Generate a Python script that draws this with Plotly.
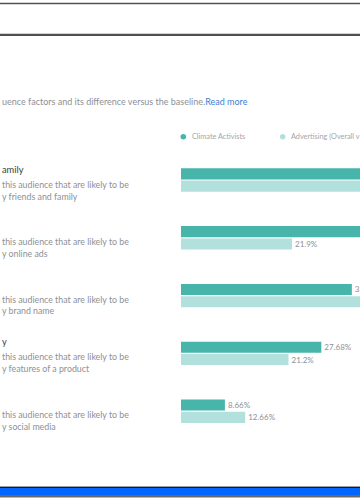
import plotly.graph_objects as go

# ---------------- data ----------------
categories = ["Friends and family", "Online ads", "Brand name", "Product quality", "Social media"]
climate_activists = [42.5, 38.4, 33.7, 27.68, 8.66]
advertising_overall = [40.1, 21.9, 36.5, 21.2, 12.66]
series_names = ["Climate Activists", "Advertising (Overall v"]
# visible parts of the page texts (the page is cropped at the left edge)
title_texts = ["amily", "", "", "y", ""]
line1_texts = ["this audience that are likely to be"] * 5
line2_texts = ["y friends and family", "y online ads", "y brand name",
               "y features of a product", "y social media"]
subtitle = "uence factors and its difference versus the baseline."
read_more = "Read more"

# ---------------- styling ----------------
W, H = 360, 500
FONT = "Lato"
C_DARK = "#48b5aa"
C_LIGHT = "#b2e0dc"
GRAY = "#8d9096"

x0_px = 181
scale = 5.07  # px per percent
xmax = (W - x0_px) / scale


def px(x):
    return x / W


def py(y):
    return 1 - y / H


def labels(vals):
    return [f"{v}%" if v < xmax else "" for v in vals]


fig = go.Figure()
fig.add_trace(go.Bar(
    y=categories, x=climate_activists, orientation="h", name=series_names[0],
    marker=dict(color=C_DARK, line=dict(width=0)),
    text=labels(climate_activists), textposition="outside",
    textfont=dict(family=FONT, size=8, color=GRAY), cliponaxis=True,
))
fig.add_trace(go.Bar(
    y=categories, x=advertising_overall, orientation="h", name=series_names[1],
    marker=dict(color=C_LIGHT, line=dict(width=0)),
    text=labels(advertising_overall), textposition="outside",
    textfont=dict(family=FONT, size=8, color=GRAY), cliponaxis=True,
))

fig.update_xaxes(domain=[px(x0_px), 1], range=[0, xmax],
                 visible=False, showgrid=False, zeroline=False)
fig.update_yaxes(domain=[py(440.1), py(151.1)], range=[4.5, -0.5],
                 visible=False, showgrid=False, zeroline=False)

ann = []
ann.append(dict(xref="paper", yref="paper", x=px(0.2), y=py(101.5), xanchor="left", yanchor="middle",
                text=subtitle + f"<span style='color:#3d7fd1'>{read_more}</span>",
                showarrow=False, font=dict(family=FONT, size=9, color=GRAY)))

# legend
legend_items = [(183.3, 189.5, C_DARK, series_names[0]), (282.7, 288.5, C_LIGHT, series_names[1])]
shapes = []
for cx, tx, col, name in legend_items:
    shapes.append(dict(type="circle", xref="paper", yref="paper",
                       x0=px(cx - 2.8), x1=px(cx + 2.8), y0=py(136.7 + 2.8), y1=py(136.7 - 2.8),
                       fillcolor=col, line=dict(width=0)))
    ann.append(dict(xref="paper", yref="paper", x=px(tx), y=py(136.7), xanchor="left", yanchor="middle",
                    text=name, showarrow=False, font=dict(family=FONT, size=7.3, color="#a3a6ab")))

# left labels
title_y = [169, 226.5, 284, 341.5, 399.5]
line1_y = [184, 241.7, 299, 356.7, 414.5]
line2_y = [196, 253, 310.7, 368.7, 426.5]
for i in range(len(categories)):
    if title_texts[i]:
        ann.append(dict(xref="paper", yref="paper", x=px(0), y=py(title_y[i]),
                        xanchor="left", yanchor="middle", text=title_texts[i], showarrow=False,
                        font=dict(family=FONT, size=9.3, color="#3d3d3d")))
    ann.append(dict(xref="paper", yref="paper", x=px(0), y=py(line1_y[i]),
                    xanchor="left", yanchor="middle", text=line1_texts[i], showarrow=False,
                    font=dict(family=FONT, size=8.8, color=GRAY)))
    ann.append(dict(xref="paper", yref="paper", x=px(0), y=py(line2_y[i]),
                    xanchor="left", yanchor="middle", text=line2_texts[i], showarrow=False,
                    font=dict(family=FONT, size=8.8, color=GRAY)))


def hband(y0, y1, col):
    shapes.append(dict(type="rect", xref="paper", yref="paper", x0=0, x1=1,
                       y0=py(y1), y1=py(y0), fillcolor=col, line=dict(width=0), layer="above"))


hband(2.7, 4.0, "#505050")
hband(4.0, 4.8, "#c8c8c8")
hband(33.8, 36.0, "#4f4f4f")
hband(486.0, 487.0, "#a0a0a0")
hband(487.0, 488.0, "#1a1a1a")
hband(488.0, 495.7, "#0066ff")
hband(495.7, 496.7, "#1a1a1a")
hband(496.7, 497.7, "#a0a0a0")

fig.update_layout(
    width=W, height=H, margin=dict(l=0, r=0, t=0, b=0),
    paper_bgcolor="white", plot_bgcolor="white",
    barmode="group", bargap=0.573, bargroupgap=0.1,
    showlegend=False, annotations=ann, shapes=shapes,
    font=dict(family=FONT),
)

fig.write_html("out.html", config={"displayModeBar": False},
               post_script="document.body.style.margin='0';")
